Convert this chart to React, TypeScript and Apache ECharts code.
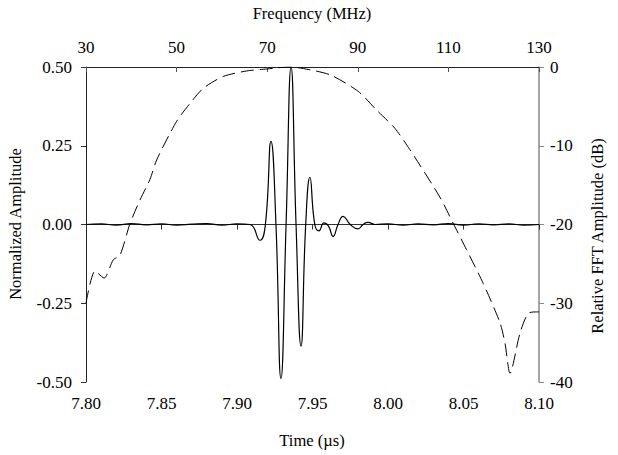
import React, { useEffect, useRef } from "react";
import * as echarts from "echarts";

// Time-domain waveform: [time (µs), normalized amplitude]
const timeValues: number[] = [
  7.8, 7.81, 7.82, 7.83, 7.84, 7.85, 7.86, 7.87, 7.88, 7.89, 7.9, 7.9086,
  7.9152, 7.9188, 7.9225, 7.9258, 7.9291, 7.9325, 7.9358, 7.9391, 7.9424,
  7.9455, 7.9483, 7.9515, 7.9543, 7.9576, 7.9606, 7.9636, 7.9669, 7.9702,
  7.975, 7.9801, 7.9835, 7.9868, 7.9914, 8.0, 8.01, 8.02, 8.03, 8.04, 8.05,
  8.06, 8.07, 8.08, 8.09, 8.1,
];
const amplitudeValues: number[] = [
  0, 0.002, -0.002, 0.003, -0.001, 0.002, -0.002, 0.001, 0.003, -0.002, 0.002, 0,
  -0.05, 0, 0.264, 0, -0.489, 0, 0.5, 0, -0.386,
  0, 0.15, 0, -0.02, 0.005, -0.005, -0.038, 0, 0.026,
  0, -0.014, 0, 0.007, 0, 0.002, -0.002, 0.002, -0.001, 0.003, -0.002,
  0.002, -0.001, 0.002, -0.002, 0,
];

// FFT spectrum: [frequency (MHz), relative amplitude (dB)]
const freqValues: number[] = [
  30, 32, 34, 36, 37.5, 39.7, 41.9, 44.1, 45.6, 50, 53, 55.9, 60.3, 65.5, 69.9,
  75, 78, 83.9, 90.1, 94.2, 98.2, 101.5, 108.1, 111.1, 114, 117.7, 121.4, 122.5,
  123.6, 125.8, 127.6, 129.5, 130,
];
const dbValues: number[] = [
  -30, -25.9, -26.8, -24.5, -23.9, -19.9, -16.9, -14.3, -11.8, -6.9, -4.6, -2.7,
  -1.2, -0.5, -0.25, 0, -0.2, -1.0, -3.1, -5.5, -7.8, -10.5, -16.5, -19.9, -23.2,
  -27.5, -32.5, -35.1, -38.9, -33.8, -31.3, -31.1, -31.1,
];

const timeTitle = "Time (µs)";
const freqTitle = "Frequency (MHz)";
const leftTitle = "Normalized Amplitude";
const rightTitle = "Relative FFT Amplitude (dB)";

const FONT = "Liberation Serif";

export default function App() {
  const ref = useRef<HTMLDivElement>(null);
  useEffect(() => {
    if (!ref.current) return;
    const chart = echarts.init(ref.current, undefined, { renderer: "svg" });
    const labelStyle = { fontFamily: FONT, fontSize: 17, color: "#000" };
    const titleStyle = { fontFamily: FONT, fontSize: 16.5, fill: "#000" };
    chart.setOption({
      animation: false,
      backgroundColor: "#fff",
      textStyle: { fontFamily: FONT },
      grid: { left: 86, right: 79, top: 67, bottom: 73 },
      xAxis: [
        {
          type: "value",
          position: "bottom",
          min: 7.8,
          max: 8.1,
          interval: 0.05,
          axisLine: { lineStyle: { color: "#333", width: 1 } },
          axisTick: { inside: false, length: 5, lineStyle: { color: "#333" } },
          axisLabel: { ...labelStyle, margin: 13, formatter: (v: number) => v.toFixed(2) },
          splitLine: { show: false },
        },
        {
          type: "value",
          position: "top",
          min: 30,
          max: 130,
          interval: 20,
          axisLine: { lineStyle: { color: "#222", width: 1 } },
          axisTick: { inside: true, length: 5, lineStyle: { color: "#555" } },
          axisLabel: { ...labelStyle, margin: 11, formatter: (v: number) => String(v) },
          splitLine: { show: false },
        },
      ],
      yAxis: [
        {
          type: "value",
          position: "left",
          min: -0.5,
          max: 0.5,
          interval: 0.25,
          axisLine: { show: true, lineStyle: { color: "#222", width: 1 } },
          axisTick: { show: true, inside: false, length: 5, lineStyle: { color: "#333" } },
          axisLabel: { ...labelStyle, margin: 14, formatter: (v: number) => v.toFixed(2) },
          splitLine: { show: false },
        },
        {
          type: "value",
          position: "right",
          min: -40,
          max: 0,
          interval: 10,
          axisLine: { show: true, lineStyle: { color: "#888", width: 1.5 } },
          axisTick: { show: true, inside: false, length: 5, lineStyle: { color: "#888" } },
          axisLabel: { ...labelStyle, margin: 11, formatter: (v: number) => String(v) },
          splitLine: { show: false },
        },
      ],
      series: [
        {
          type: "line",
          xAxisIndex: 0,
          yAxisIndex: 0,
          data: timeValues.map((t, i) => [t, amplitudeValues[i]]),
          showSymbol: false,
          smooth: true,
          lineStyle: { color: "#000", width: 1.2 },
        },
        {
          type: "line",
          xAxisIndex: 1,
          yAxisIndex: 1,
          data: freqValues.map((f, i) => [f, dbValues[i]]),
          showSymbol: false,
          smooth: 0.25,
          lineStyle: { color: "#000", width: 1, type: [13, 6] },
        },
      ],
      graphic: [
        {
          type: "text",
          x: 312,
          y: 13,
          style: { ...titleStyle, text: freqTitle, textAlign: "center", textVerticalAlign: "middle" },
        },
        {
          type: "text",
          x: 312,
          y: 440,
          style: { ...titleStyle, text: timeTitle, textAlign: "center", textVerticalAlign: "middle" },
        },
        {
          type: "text",
          x: 15,
          y: 224,
          rotation: Math.PI / 2,
          style: { ...titleStyle, text: leftTitle, textAlign: "center", textVerticalAlign: "middle" },
        },
        {
          type: "text",
          x: 597,
          y: 236,
          rotation: Math.PI / 2,
          style: { ...titleStyle, text: rightTitle, textAlign: "center", textVerticalAlign: "middle" },
        },
      ],
    });
    return () => chart.dispose();
  }, []);
  return (
    <div
      ref={ref}
      style={{ position: "fixed", left: 0, top: 0, width: 618, height: 455, background: "#fff" }}
    />
  );
}
